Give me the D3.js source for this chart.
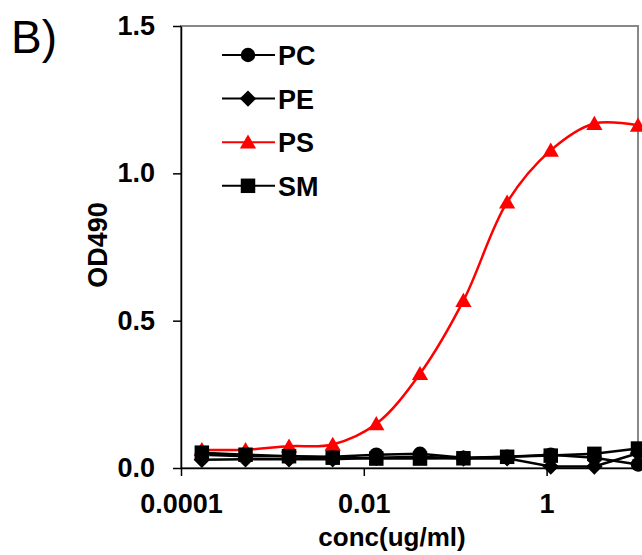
<!DOCTYPE html>
<html>
<head>
<meta charset="utf-8">
<script src="https://cdn.jsdelivr.net/npm/d3@7"></script>
<style>
  body { margin: 0; background: #fff; }
  svg text { font-family: "Liberation Sans", Arial, sans-serif; }
</style>
</head>
<body>
<svg id="chart" width="642" height="555"></svg>
<script>
// concentrations (ug/ml), 3-fold dilution series
const conc = [0.000169, 0.000508, 0.00152, 0.00457, 0.0137, 0.0412, 0.123, 0.370, 1.11, 3.33, 10];
const pc = [0.045, 0.040, 0.040, 0.038, 0.045, 0.048, 0.035, 0.038, 0.045, 0.035, 0.012];
const pe = [0.028, 0.030, 0.030, 0.030, 0.035, 0.038, 0.032, 0.033, 0.005, 0.005, 0.050];
const ps = [0.062, 0.062, 0.074, 0.080, 0.150, 0.320, 0.568, 0.902, 1.078, 1.169, 1.163];
const sm = [0.052, 0.045, 0.040, 0.035, 0.032, 0.032, 0.033, 0.038, 0.042, 0.048, 0.066];
const xTicks = [0.0001, 0.01, 1];
const yTicks = [0, 0.5, 1.0, 1.5];

// custom marker shapes (Excel-like)
const diamond = { draw(ctx, size) { const r = Math.sqrt(size / 2); ctx.moveTo(0, -r); ctx.lineTo(r, 0); ctx.lineTo(0, r); ctx.lineTo(-r, 0); ctx.closePath(); } };
const triangle = { draw(ctx, size) { const h = Math.sqrt(size * 1.6); const w = h * 1.15; ctx.moveTo(0, -h * 0.55); ctx.lineTo(w / 2, h * 0.45); ctx.lineTo(-w / 2, h * 0.45); ctx.closePath(); } };

const series = [
  { name: "PC", values: pc, color: "#000", symbol: d3.symbolCircle, size: 165, smooth: false },
  { name: "PE", values: pe, color: "#000", symbol: diamond, size: 135, smooth: false },
  { name: "PS", values: ps, color: "#ff0000", symbol: triangle, size: 125, smooth: true },
  { name: "SM", values: sm, color: "#000", symbol: d3.symbolSquare, size: 210, smooth: false }
];

const svg = d3.select("#chart");
const margin = { top: 26, left: 181 };
const width = 638 - 181;
const height = 468 - 26;

const x = d3.scaleLog().domain([0.0001, 10]).range([0, width]);
const y = d3.scaleLinear().domain([0, 1.5]).range([height, 0]);

const g = svg.append("g").attr("transform", `translate(${margin.left},${margin.top})`);

// plot area border
g.append("rect")
  .attr("x", 0).attr("y", 0).attr("width", width).attr("height", height)
  .attr("fill", "none").attr("stroke", "#888").attr("stroke-width", 2);

// X axis
const xAxis = g.append("g")
  .attr("transform", `translate(0,${height})`)
  .call(d3.axisBottom(x).tickValues(xTicks).tickSize(8).tickSizeOuter(0)
    .tickFormat(d => d3.format("")(d)));
xAxis.select(".domain").attr("stroke", "#000").attr("stroke-width", 1.5);
xAxis.selectAll(".tick line").attr("stroke-width", 1.5);
xAxis.selectAll("text")
  .attr("font-size", 27).attr("font-weight", "bold").attr("fill", "#000")
  .attr("y", 26);

// Y axis
const yAxis = g.append("g")
  .call(d3.axisLeft(y).tickValues(yTicks).tickSize(8).tickSizeOuter(0).tickFormat(d3.format(".1f")));
yAxis.select(".domain").attr("stroke", "#000").attr("stroke-width", 1.5);
yAxis.selectAll(".tick line").attr("stroke-width", 1.5);
yAxis.selectAll("text")
  .attr("font-size", 27).attr("font-weight", "bold").attr("fill", "#000")
  .attr("x", -26);

// axis titles
svg.append("text")
  .attr("x", 392).attr("y", 546)
  .attr("text-anchor", "middle")
  .attr("font-size", 26).attr("font-weight", "bold")
  .text("conc(ug/ml)");

svg.append("text")
  .attr("transform", "translate(107,245) rotate(-90)")
  .attr("text-anchor", "middle")
  .attr("font-size", 27).attr("font-weight", "bold")
  .text("OD490");

svg.append("text")
  .attr("x", 11).attr("y", 53)
  .attr("font-size", 46)
  .text("B)");

// lines and markers
series.forEach(s => {
  const pts = conc.map((c, i) => [c, s.values[i]]);
  const line = d3.line()
    .x(d => x(d[0])).y(d => y(d[1]))
    .curve(s.smooth ? d3.curveCatmullRom.alpha(0.5) : d3.curveLinear);
  g.append("path")
    .datum(pts)
    .attr("fill", "none")
    .attr("stroke", s.color)
    .attr("stroke-width", 2.5)
    .attr("d", line);
  g.selectAll(null)
    .data(pts)
    .enter().append("path")
    .attr("transform", d => `translate(${x(d[0])},${y(d[1])})`)
    .attr("d", d3.symbol().type(s.symbol).size(s.size))
    .attr("fill", s.color);
});

// legend
const legend = svg.append("g");
series.forEach((s, i) => {
  const ly = 55 + i * 43.6;
  legend.append("line")
    .attr("x1", 222).attr("x2", 275).attr("y1", ly).attr("y2", ly)
    .attr("stroke", s.color).attr("stroke-width", 2);
  legend.append("path")
    .attr("transform", `translate(248,${ly})`)
    .attr("d", d3.symbol().type(s.symbol).size(s.size))
    .attr("fill", s.color);
  legend.append("text")
    .attr("x", 278).attr("y", ly + 10)
    .attr("font-size", 27).attr("font-weight", "bold")
    .text(s.name);
});
</script>
</body>
</html>
